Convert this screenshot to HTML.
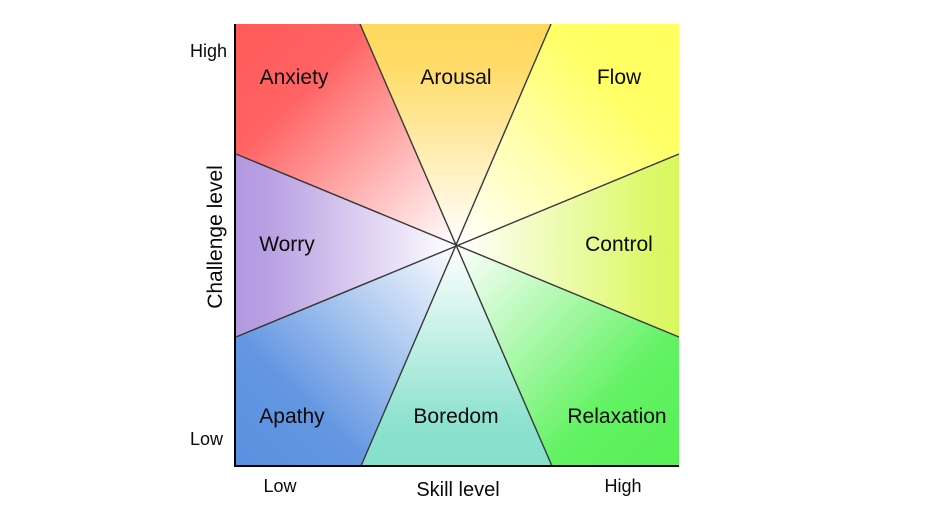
<!DOCTYPE html>
<html><head><meta charset="utf-8"><style>
html,body{margin:0;padding:0;background:#fff;}
svg{display:block;}
text{font-family:"Liberation Sans",Arial,sans-serif;fill:#0a0a0a;}
</style></head><body>
<svg width="936" height="524" viewBox="0 0 936 524" xmlns="http://www.w3.org/2000/svg">
<defs>
<linearGradient id="gAnx" gradientUnits="userSpaceOnUse" x1="236" y1="24" x2="456" y2="245">
<stop offset="0" stop-color="#ff5a5a"/><stop offset="0.3" stop-color="#ff6363"/><stop offset="1" stop-color="#ffffff"/></linearGradient>
<linearGradient id="gAro" gradientUnits="userSpaceOnUse" x1="456" y1="24" x2="456" y2="245">
<stop offset="0" stop-color="#ffd75c"/><stop offset="0.2" stop-color="#ffdc6a"/><stop offset="1" stop-color="#ffffff"/></linearGradient>
<linearGradient id="gFlow" gradientUnits="userSpaceOnUse" x1="679" y1="24" x2="456" y2="245">
<stop offset="0" stop-color="#ffff5e"/><stop offset="0.3" stop-color="#ffff66"/><stop offset="1" stop-color="#ffffff"/></linearGradient>
<linearGradient id="gCtl" gradientUnits="userSpaceOnUse" x1="679" y1="245" x2="456" y2="245">
<stop offset="0" stop-color="#d8f75e"/><stop offset="0.15" stop-color="#def86c"/><stop offset="1" stop-color="#ffffff"/></linearGradient>
<linearGradient id="gRel" gradientUnits="userSpaceOnUse" x1="679" y1="466" x2="456" y2="245">
<stop offset="0" stop-color="#58f058"/><stop offset="0.3" stop-color="#62f262"/><stop offset="1" stop-color="#ffffff"/></linearGradient>
<linearGradient id="gBor" gradientUnits="userSpaceOnUse" x1="456" y1="466" x2="456" y2="245">
<stop offset="0" stop-color="#86dfcb"/><stop offset="0.2" stop-color="#8ee2cf"/><stop offset="1" stop-color="#ffffff"/></linearGradient>
<linearGradient id="gApa" gradientUnits="userSpaceOnUse" x1="236" y1="466" x2="456" y2="245">
<stop offset="0" stop-color="#5a90e0"/><stop offset="0.3" stop-color="#6397e2"/><stop offset="1" stop-color="#ffffff"/></linearGradient>
<linearGradient id="gWor" gradientUnits="userSpaceOnUse" x1="236" y1="245" x2="456" y2="245">
<stop offset="0" stop-color="#b398e0"/><stop offset="0.15" stop-color="#b9a0e3"/><stop offset="1" stop-color="#ffffff"/></linearGradient>
</defs>

<polygon points="236,24 360,24 456,245 236,154" fill="url(#gAnx)"/>
<polygon points="360,24 551,24 456,245" fill="url(#gAro)"/>
<polygon points="551,24 679,24 679,154 456,245" fill="url(#gFlow)"/>
<polygon points="679,154 679,337 456,245" fill="url(#gCtl)"/>
<polygon points="679,337 679,466 552,466 456,245" fill="url(#gRel)"/>
<polygon points="552,466 361,466 456,245" fill="url(#gBor)"/>
<polygon points="361,466 236,466 236,337 456,245" fill="url(#gApa)"/>
<polygon points="236,337 236,154 456,245" fill="url(#gWor)"/>

<g stroke="#383838" stroke-width="1.4" fill="none">
<line x1="360" y1="24" x2="552" y2="466"/>
<line x1="551" y1="24" x2="361" y2="466"/>
<line x1="236" y1="154" x2="679" y2="337"/>
<line x1="236" y1="337" x2="679" y2="154"/>
</g>

<line x1="235" y1="24" x2="235" y2="467" stroke="#000" stroke-width="2"/>
<line x1="234" y1="466" x2="679" y2="466" stroke="#000" stroke-width="2"/>

<g font-size="21" text-anchor="middle">
<text x="294" y="84">Anxiety</text>
<text x="456" y="84">Arousal</text>
<text x="619" y="84">Flow</text>
<text x="287" y="251">Worry</text>
<text x="619" y="251">Control</text>
<text x="292" y="423">Apathy</text>
<text x="456" y="423">Boredom</text>
<text x="617" y="423">Relaxation</text>
</g>

<g font-size="18">
<text x="190" y="57">High</text>
<text x="190" y="445">Low</text>
<text x="280" y="492" text-anchor="middle">Low</text>
<text x="623" y="492" text-anchor="middle">High</text>
</g>
<text x="458" y="496" font-size="20" text-anchor="middle">Skill level</text>
<text x="0" y="0" font-size="21" text-anchor="middle" transform="translate(222,237) rotate(-90)">Challenge level</text>
</svg>
</body></html>
